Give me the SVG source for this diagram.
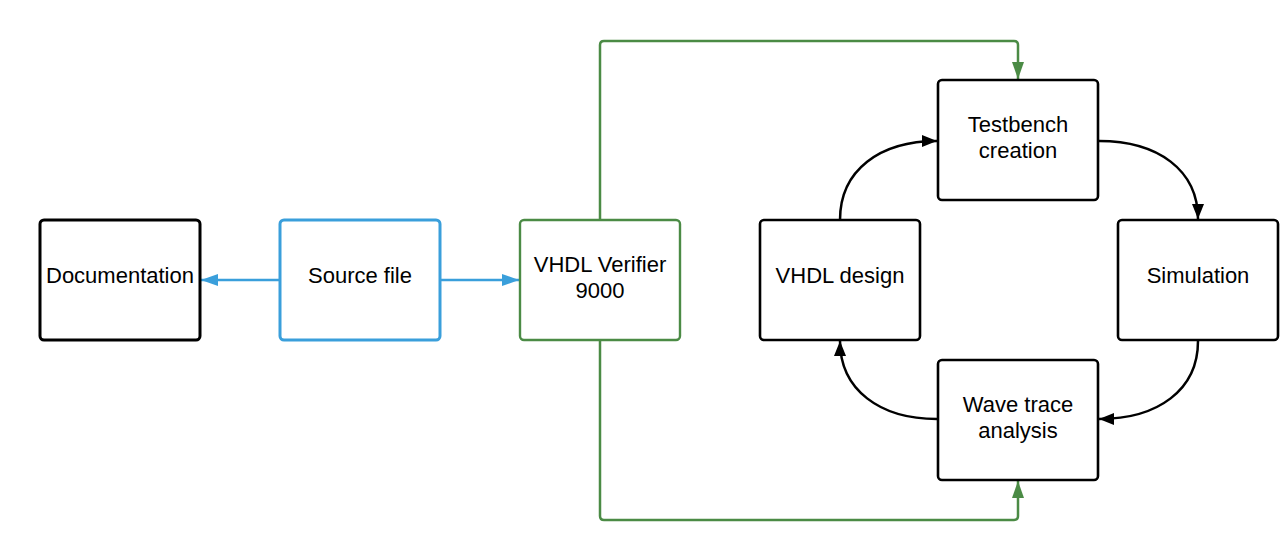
<svg xmlns="http://www.w3.org/2000/svg" width="1283" height="560" viewBox="0 0 1283 560">
<style>
.box{fill:#fff;stroke:#000;stroke-width:2.6}
.boxb{fill:#fff;stroke:#000;stroke-width:3}
.blue{fill:#fff;stroke:#3a9fdb;stroke-width:3}
.green{fill:#fff;stroke:#4b8b45;stroke-width:2.4}
.lbl{font-family:"Liberation Sans",Arial,sans-serif;font-size:22px;fill:#000;text-anchor:middle}
.cb{fill:none;stroke:#000;stroke-width:2.5}
.cbl{fill:none;stroke:#3a9fdb;stroke-width:2.5}
.cg{fill:none;stroke:#4b8b45;stroke-width:2.5}
</style>
<defs>
<marker id="ab" markerUnits="userSpaceOnUse" markerWidth="16" markerHeight="14" viewBox="0 0 16 14" refX="15" refY="7" orient="auto"><path d="M0,1 L15,7 L0,13 Z" fill="#000"/></marker>
<marker id="abl" markerUnits="userSpaceOnUse" markerWidth="18" markerHeight="14" viewBox="0 0 18 14" refX="17" refY="7" orient="auto"><path d="M0,1 L17,7 L0,13 Z" fill="#3a9fdb"/></marker>
<marker id="ag" markerUnits="userSpaceOnUse" markerWidth="18" markerHeight="14" viewBox="0 0 18 14" refX="17" refY="7" orient="auto"><path d="M0,1 L17,7 L0,13 Z" fill="#4b8b45"/></marker>
</defs>
<g id="connectors">
<path class="cbl" d="M280,280 L201,280" marker-end="url(#abl)"/>
<path class="cbl" d="M440,280 L519,280" marker-end="url(#abl)"/>
<path class="cg" d="M600,220 L600,45 Q600,41 604,41 L1014,41 Q1018,41 1018,45 L1018,79" marker-end="url(#ag)"/>
<path class="cg" d="M600,340 L600,516 Q600,520 604,520 L1014,520 Q1018,520 1018,516 L1018,481" marker-end="url(#ag)"/>
<path class="cb" d="M840,220 C840,170 880,141 937,141" marker-end="url(#ab)"/>
<path class="cb" d="M1099,141 C1158,141 1198,170 1198,219" marker-end="url(#ab)"/>
<path class="cb" d="M1198,341 C1198,390 1158,419 1099,419" marker-end="url(#ab)"/>
<path class="cb" d="M937,419 C880,419 840,390 840,341" marker-end="url(#ab)"/>
</g>
<g id="documentation"><rect class="boxb" x="40" y="220" width="160" height="120" rx="4"/><text class="lbl" x="120" y="283">Documentation</text></g>
<g id="source-file"><rect class="blue" x="280" y="220" width="160" height="120" rx="4"/><text class="lbl" x="360" y="283">Source file</text></g>
<g id="vhdl-verifier"><rect class="green" x="520" y="220" width="160" height="120" rx="4"/><text class="lbl" x="600" y="272">VHDL Verifier</text><text class="lbl" x="600" y="298">9000</text></g>
<g id="testbench"><rect class="box" x="938" y="80" width="160" height="120" rx="4"/><text class="lbl" x="1018" y="132">Testbench</text><text class="lbl" x="1018" y="158">creation</text></g>
<g id="vhdl-design"><rect class="box" x="760" y="220" width="160" height="120" rx="4"/><text class="lbl" x="840" y="283">VHDL design</text></g>
<g id="simulation"><rect class="box" x="1118" y="220" width="160" height="120" rx="4"/><text class="lbl" x="1198" y="283">Simulation</text></g>
<g id="wave-trace"><rect class="box" x="938" y="360" width="160" height="120" rx="4"/><text class="lbl" x="1018" y="412">Wave trace</text><text class="lbl" x="1018" y="438">analysis</text></g>
</svg>
